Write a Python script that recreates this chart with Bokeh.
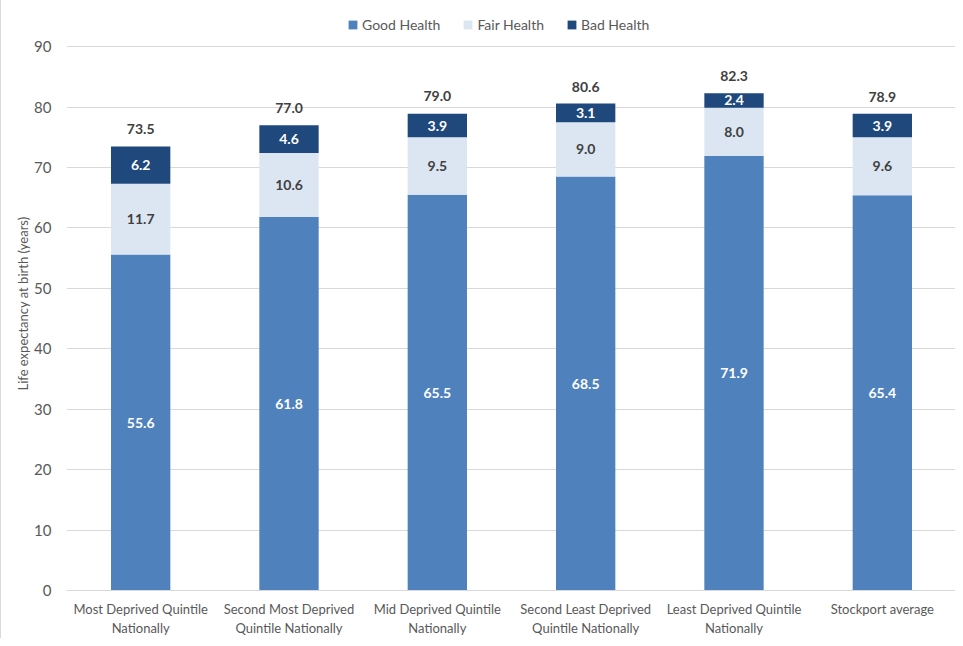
from bokeh.plotting import figure
from bokeh.models import Range1d, ColumnDataSource, Legend, LegendItem, FactorRange
from bokeh.core.properties import value
from bokeh.embed import file_html
from bokeh.resources import INLINE

categories = ["Most Deprived Quintile\nNationally", "Second Most Deprived\nQuintile Nationally",
              "Mid Deprived Quintile\nNationally", "Second Least Deprived\nQuintile Nationally",
              "Least Deprived Quintile\nNationally", "Stockport average"]
good = [55.6, 61.8, 65.5, 68.5, 71.9, 65.4]
fair = [11.7, 10.6, 9.5, 9.0, 8.0, 9.6]
bad = [6.2, 4.6, 3.9, 3.1, 2.4, 3.9]
totals = [73.5, 77.0, 79.0, 80.6, 82.3, 78.9]
series = ["Good Health", "Fair Health", "Bad Health"]
colors = ["#4F81BD", "#DCE6F2", "#1F497D"]
y_ticks = [0, 10, 20, 30, 40, 50, 60, 70, 80, 90]

FONT = "Lato"

src = ColumnDataSource(dict(
    cat=categories, good=good, fair=fair, bad=bad, totals=totals,
    good_y=[g / 2 for g in good],
    fair_y=[g + f / 2 for g, f in zip(good, fair)],
    bad_y=[g + f + b / 2 for g, f, b in zip(good, fair, bad)],
    good_t=[f"{v:.1f}" for v in good],
    fair_t=[f"{v:.1f}" for v in fair],
    bad_t=[f"{v:.1f}" for v in bad],
    tot_t=[f"{v:.1f}" for v in totals],
))

p = figure(x_range=FactorRange(*categories, range_padding=0), y_range=Range1d(0, 95),
           width=955, height=638, output_backend="svg", toolbar_location=None,
           min_border_left=65, min_border_right=0, min_border_top=16, min_border_bottom=48)
p.styles = {"border-left": "1px solid #d9d9d9"}

renderers = p.vbar_stack(["good", "fair", "bad"], x="cat", width=0.4, color=colors,
                         line_color=None, source=src)

common = dict(source=src, text_align="center", text_baseline="middle",
              text_font=value(FONT), text_font_style="bold", text_font_size="14px")
p.text(x="cat", y="good_y", text="good_t", text_color="white", **common)
p.text(x="cat", y="fair_y", text="fair_t", text_color="#404040", **common)
p.text(x="cat", y="bad_y", text="bad_t", text_color="white", **common)
p.text(x="cat", y="totals", text="tot_t", text_color="#404040", y_offset=-17, **common)

legend = Legend(items=[LegendItem(label=s, renderers=[r]) for s, r in zip(series, renderers)],
                orientation="horizontal", location=(281, 557),
                label_text_font=FONT, label_text_font_size="14px", label_text_color="#595959",
                glyph_width=11, glyph_height=11, spacing=22, padding=0, margin=0,
                border_line_color=None, background_fill_alpha=0, label_standoff=4)
p.add_layout(legend)

p.xgrid.grid_line_color = None
p.ygrid.grid_line_color = "#d9d9d9"
p.ygrid.grid_line_width = 1
p.yaxis.ticker = y_ticks
p.yaxis.axis_line_color = None
p.yaxis.major_tick_line_color = None
p.yaxis.minor_tick_line_color = None
p.yaxis.major_label_text_font = FONT
p.yaxis.major_label_text_font_size = "15px"
p.yaxis.major_label_text_color = "#595959"
p.yaxis.major_label_standoff = 9
p.yaxis.axis_label = "Life expectancy at birth (years)"
p.yaxis.axis_label_text_font = FONT
p.yaxis.axis_label_text_font_size = "13px"
p.yaxis.axis_label_text_font_style = "normal"
p.yaxis.axis_label_text_color = "#595959"
p.yaxis.axis_label_standoff = 0

p.xaxis.axis_line_color = "#d9d9d9"
p.xaxis.major_tick_line_color = None
p.xaxis.minor_tick_line_color = None
p.xaxis.major_label_text_font = FONT
p.xaxis.major_label_text_font_size = "13px"
p.xaxis.major_label_text_color = "#595959"
p.xaxis.major_label_standoff = 4
p.outline_line_color = None

open("out.html", "w").write(file_html(p, INLINE))
